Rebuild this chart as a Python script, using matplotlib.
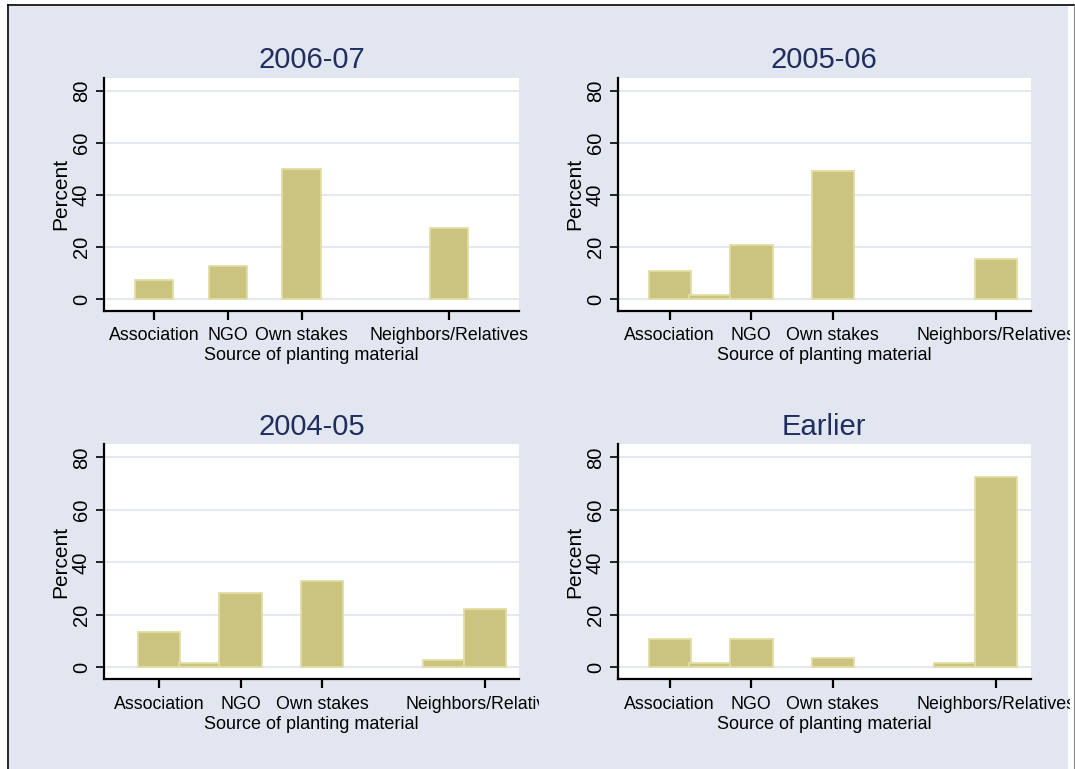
import matplotlib
matplotlib.use("Agg")
import matplotlib.pyplot as plt
from matplotlib.lines import Line2D
from matplotlib.patches import Rectangle
from matplotlib.transforms import Bbox, TransformedBbox

plt.rcParams['font.family'] = ['Liberation Sans', 'DejaVu Sans']

# category codes of the source variable (1.5 and 4.5 are unlabelled codes)
codes = [1, 1.5, 2, 3, 4.5, 5]
tick_codes = [1, 2, 3, 5]
tick_labels = ["Association", "NGO", "Own stakes", "Neighbors/Relatives"]

periods = ["2006-07", "2005-06", "2004-05", "Earlier"]
pct_2006_07 = [7.2, 0.0, 12.5, 49.9, 0.0, 27.1]
pct_2005_06 = [10.7, 1.5, 20.8, 49.0, 0.0, 15.2]
pct_2004_05 = [13.5, 1.7, 28.5, 33.0, 2.7, 22.2]
pct_earlier = [10.7, 1.7, 10.7, 3.5, 1.7, 72.6]
series = [pct_2006_07, pct_2005_06, pct_2004_05, pct_earlier]

W, H = 1075, 769
BG = "#E1E6F0"
BAR = "#CBC480"
BAR_EDGE = "#E2DDA4"
TITLE = "#1F2E5E"

fig = plt.figure(figsize=(W / 100, H / 100), dpi=100)
fig.patch.set_facecolor("white")

# graph region + border
fig.add_artist(Rectangle((9 / W, 0), (1068 - 9) / W, 1 - 6 / H,
                         transform=fig.transFigure, facecolor=BG,
                         edgecolor="none", zorder=0))
fig.add_artist(Line2D([8 / W, 1], [1 - 5 / H, 1 - 5 / H], transform=fig.transFigure,
                      color="black", lw=1.2, zorder=1))
fig.add_artist(Line2D([8 / W, 8 / W], [0, 1 - 5 / H], transform=fig.transFigure,
                      color="black", lw=1.2, zorder=1))
fig.add_artist(Line2D([1074 / W, 1074 / W], [0, 1 - 5 / H], transform=fig.transFigure,
                      color="#888888", lw=0.8, zorder=1))

# pixel boxes: left, top, right, bottom, xlim, clip right edge for labels
boxes = [
    (104, 77.7, 519, 310.7, (0.32, 5.95), 1070),
    (618, 77.7, 1030.7, 310.7, (0.366, 5.425), 1070),
    (104, 444.3, 519, 679.3, (0.325, 5.417), 539),
    (618, 444.3, 1030.7, 679.3, (0.366, 5.425), 1070),
]

for (l, t, r, b, xl, clip_r), title, vals in zip(boxes, periods, series):
    ax = fig.add_axes([l / W, 1 - b / H, (r - l) / W, (b - t) / H])
    ax.set_facecolor("white")
    for y in [0, 20, 40, 60, 80]:
        ax.axhline(y, color=BG, lw=1.3, zorder=1)
    xs = [c for c, v in zip(codes, vals) if v > 0]
    hs = [v for v in vals if v > 0]
    ax.bar(xs, hs, width=0.52, color=BAR, edgecolor=BAR_EDGE,
           linewidth=1.3, zorder=2)
    ax.set_xlim(*xl)
    ax.set_ylim(-4.5, 85)
    for s in ["top", "right"]:
        ax.spines[s].set_visible(False)
    for s in ["left", "bottom"]:
        ax.spines[s].set_linewidth(1.6)
        ax.spines[s].set_color("black")

    ax.set_yticks([0, 20, 40, 60, 80])
    ax.set_yticklabels(["0", "20", "40", "60", "80"], rotation=90, va="center")
    ax.tick_params(axis="y", length=6, width=1.2, pad=3.5, labelsize=14.5)
    ax.set_xticks(tick_codes)
    ax.set_xticklabels(tick_labels)
    ax.tick_params(axis="x", length=6.5, width=1.6, pad=5.5, labelsize=12.8)

    ax.set_ylabel("Percent", fontsize=15, labelpad=1)
    ax.set_xlabel("Source of planting material", fontsize=13, labelpad=2)
    ax.set_title(title, fontsize=21, color=TITLE, pad=7)

    # long labels are cut off at the edge of each panel
    clip = TransformedBbox(Bbox.from_extents(0, 0, clip_r / W, 1), fig.transFigure)
    for lab in ax.get_xticklabels():
        lab.set_clip_on(True)
        lab.set_clip_box(clip)

fig.savefig("out.png", dpi=100, facecolor=fig.get_facecolor())
